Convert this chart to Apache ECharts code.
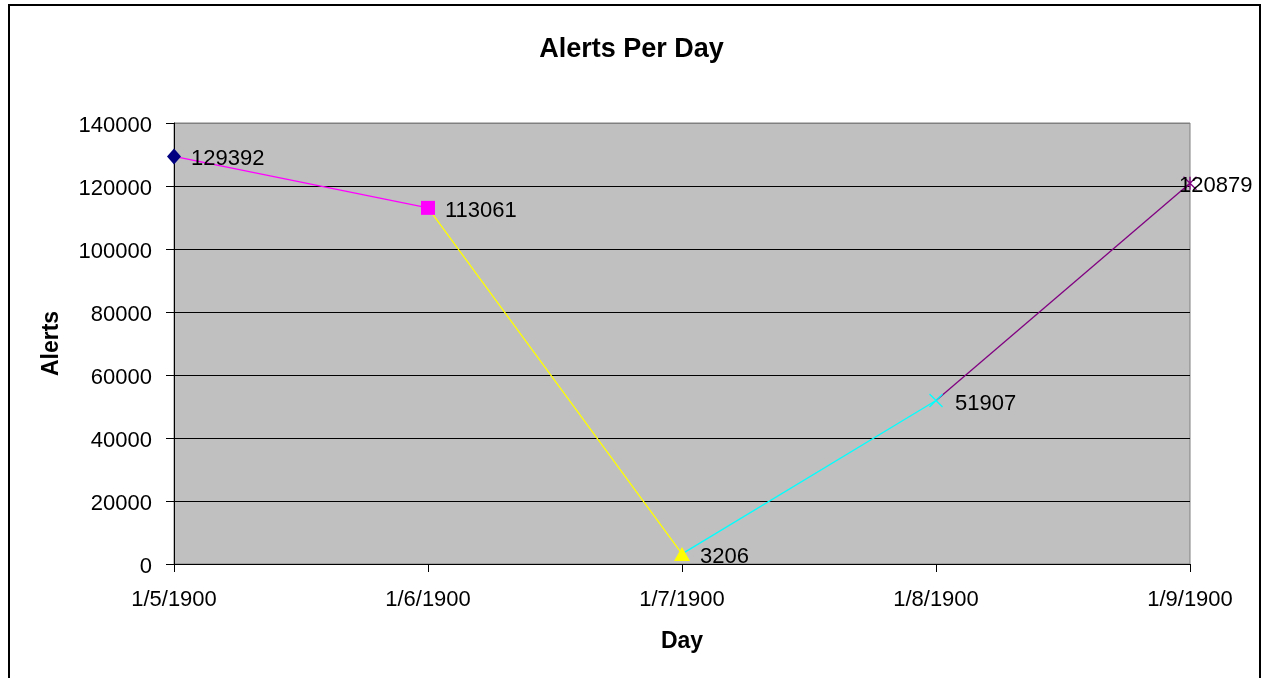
<!DOCTYPE html>
<html>
<head>
<meta charset="utf-8">
<script src="https://cdn.jsdelivr.net/npm/echarts@6/dist/echarts.min.js"></script>
<style>html,body{margin:0;padding:0;background:#fff}#c{width:1263px;height:678px}</style>
</head>
<body>
<div id="c"></div>
<script>
const categories = ['1/5/1900', '1/6/1900', '1/7/1900', '1/8/1900', '1/9/1900'];
const alerts = [129392, 113061, 3206, 51907, 120879];
const yTicks = [0, 20000, 40000, 60000, 80000, 100000, 120000, 140000];
const pointColors = ['#000080', '#FF00FF', '#FFFF00', '#00FFFF', '#800080'];
const FONT = 'Liberation Sans, Arial, sans-serif';

const chart = echarts.init(document.getElementById('c'), null, {renderer: 'canvas'});

// line segments, each colored like the point it ends at
const segSeries = [];
for (let i = 1; i < alerts.length; i++) {
  const d = alerts.map(() => null);
  d[i - 1] = alerts[i - 1];
  d[i] = alerts[i];
  segSeries.push({
    type: 'line', data: d, symbol: 'none', silent: true, z: 2,
    lineStyle: {color: pointColors[i], width: 1.3}, connectNulls: false
  });
}

const markers = [
  {symbol: 'diamond', symbolSize: [14, 16], fill: true},
  {symbol: 'rect', symbolSize: 14, fill: true},
  {symbol: 'triangle', symbolSize: [16, 14], fill: true},
  {symbol: 'path://M0,0L10,10M10,0L0,10', symbolSize: 13, fill: false},
  {symbol: 'path://M0,0L10,10M10,0L0,10M5,0L5,10', symbolSize: 13, fill: false}
];

const pointData = alerts.map((v, i) => {
  const m = markers[i];
  const item = {
    value: v,
    symbol: m.symbol,
    symbolSize: m.symbolSize,
    itemStyle: m.fill ? {color: pointColors[i], borderWidth: 0}
                      : {color: 'none', borderColor: pointColors[i], borderWidth: 1.3}
  };
  if (i === alerts.length - 1) {
    item.label = {offset: [-30, 3]};
  }
  return item;
});

// grid lines black, except the top one which belongs to the gray plot border
const splitColors = yTicks.map((t, i) => i === yTicks.length - 1 ? '#808080' : '#000000');

chart.setOption({
  animation: false,
  backgroundColor: '#ffffff',
  title: {
    text: 'Alerts Per Day', left: 'center', top: 31,
    textStyle: {fontFamily: FONT, fontSize: 27, fontWeight: 'bold', color: '#000'}
  },
  grid: {
    left: 174, right: 73, top: 123, bottom: 114,
    show: true, backgroundColor: '#C0C0C0', borderColor: '#808080', borderWidth: 1
  },
  xAxis: {
    type: 'category', data: categories, boundaryGap: false,
    name: 'Day', nameLocation: 'middle', nameGap: 66,
    nameTextStyle: {fontFamily: FONT, fontSize: 23, fontWeight: 'bold', color: '#000'},
    axisLine: {lineStyle: {color: '#000', width: 1}},
    axisTick: {show: true, length: 8, lineStyle: {color: '#000'}, alignWithLabel: true},
    axisLabel: {fontFamily: FONT, fontSize: 22, color: '#000', margin: 25},
    splitLine: {show: false}
  },
  yAxis: {
    type: 'value', min: yTicks[0], max: yTicks[yTicks.length - 1], interval: yTicks[1] - yTicks[0],
    name: 'Alerts', nameLocation: 'middle', nameGap: 111, nameRotate: 90,
    nameTextStyle: {fontFamily: FONT, fontSize: 23, fontWeight: 'bold', color: '#000'},
    axisLine: {show: true, lineStyle: {color: '#000', width: 1}},
    axisTick: {show: true, length: 8, lineStyle: {color: '#000'}},
    axisLabel: {margin: 22, formatter: v => '{t|' + v + '}',
                rich: {t: {fontFamily: FONT, fontSize: 22, color: '#000', padding: [6, 0, 0, 0]}}},
    splitLine: {show: true, lineStyle: {color: splitColors, width: 1}}
  },
  graphic: [{
    type: 'rect', shape: {x: 9, y: 5, width: 1251, height: 700},
    style: {fill: 'none', stroke: '#000', lineWidth: 2}, silent: true, z: 100
  }],
  series: segSeries.concat([{
    type: 'line', data: pointData, z: 5,
    lineStyle: {width: 0, opacity: 0},
    label: {show: true, position: 'right', distance: 10, offset: [0, 3],
            fontFamily: FONT, fontSize: 22, color: '#000'}
  }])
});
</script>
</body>
</html>
